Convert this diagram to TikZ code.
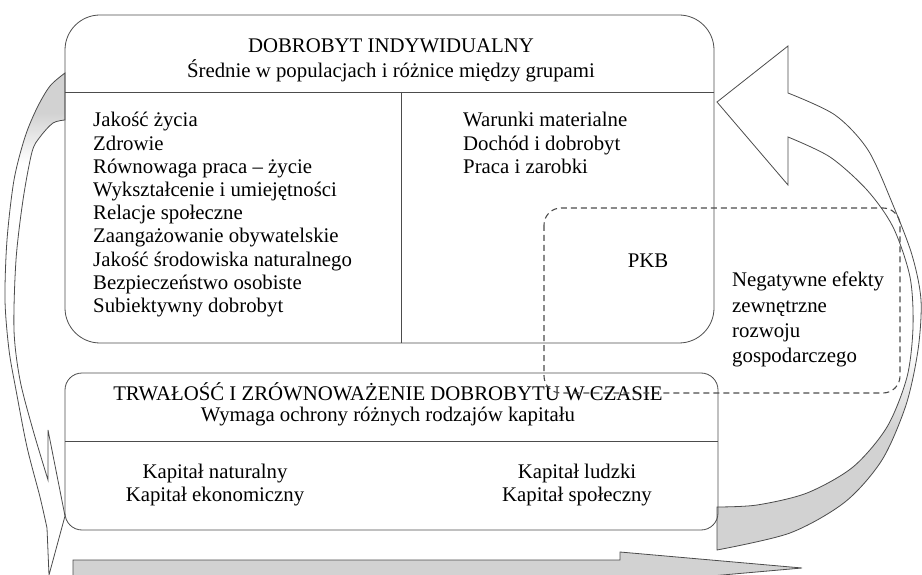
\documentclass[tikz,border=0pt]{standalone}
\usepackage{fontspec}
\setmainfont{Liberation Serif}
\pgfdeclareverticalshading{fadeleft}{100bp}{color(0bp)=(white); color(66bp)=(white); color(71bp)=(gray!35); color(100bp)=(gray!35)}
\pgfdeclareverticalshading{faderight}{100bp}{color(0bp)=(gray!35); color(37bp)=(gray!35); color(45bp)=(white); color(100bp)=(white)}
\begin{document}
\begin{tikzpicture}[x=1pt,y=-1pt,
  line/.style={draw=black!70, line width=0.8pt},
  txt/.style={font=\fontsize{20.8}{24}\selectfont, inner sep=0pt}]
  \useasboundingbox (0,0) rectangle (922,575);
  \clip (0,0) rectangle (922,575);

  % time arrow
  \filldraw[line, fill=gray!35] (73,560) -- (620,560) -- (620,552) -- (802,568)
    -- (620,584) -- (620,576) -- (73,576) -- cycle;

  % left feedback arrow
  \shadedraw[line, shading=fadeleft]
    plot[smooth] coordinates {(65,73) (50,86) (37,108) (25,137) (14,180) (7,240) (5,300)
      (9,350) (16,390) (27,447) (40,497) (47,528)}
    -- (49,575) -- (65,516) -- (48,430) -- (48,480)
    -- plot[smooth] coordinates {(48,480) (33,430) (20,380) (14,330) (16,260) (23,200)
      (32,152) (40,137) (53,123) (65,120)}
    -- cycle;

  % right feedback arrow
  \shadedraw[line, shading=faderight]
    (717,102) -- (788,46) -- (788,93)
    -- plot[smooth] coordinates {(788,93) (835,115) (868,150) (893,205) (912,255) (921,300)
      (918,350) (906,405) (882,460) (845,502) (790,533) (717,550)}
    -- (717,507)
    -- plot[smooth] coordinates {(717,507) (757,505) (807,493) (853,467) (887,427) (907,377)
      (913,327) (910,277) (893,227) (867,190) (830,157) (788,137)}
    -- (788,185) -- cycle;

  % individual well-being
  \draw[line, rounded corners=35] (65,15) rectangle (714,343);
  \draw[line] (65,92) -- (714,92);
  \draw[line] (401,92) -- (401,343);
  \node[txt, anchor=base] (indivtitle) at (391,53) {DOBROBYT INDYWIDUALNY};
  \node[txt, anchor=base] (indivsub) at (391,78) {Średnie w populacjach i różnice między grupami};
  \foreach \t [count=\i from 0] in {Jakość życia, Zdrowie, Równowaga praca – życie,
      Wykształcenie i umiejętności, Relacje społeczne, Zaangażowanie obywatelskie,
      Jakość środowiska naturalnego, Bezpieczeństwo osobiste, Subiektywny dobrobyt}
    \node[txt, anchor=base west] (life\i) at (93,127+23.2*\i) {\t};
  \foreach \t [count=\i from 0] in {Warunki materialne, Dochód i dobrobyt, Praca i zarobki}
    \node[txt, anchor=base west] (mat\i) at (463,127+23.2*\i) {\t};

  % sustainability
  \draw[line, rounded corners=17] (65,373) rectangle (718,530);
  \draw[line] (65,441) -- (718,441);
  \node[txt, anchor=base] (sustitle) at (388,400) {TRWAŁOŚĆ I ZRÓWNOWAŻENIE DOBROBYTU W CZASIE};
  \node[txt, anchor=base] (sussub) at (388,421) {Wymaga ochrony różnych rodzajów kapitału};
  \node[txt, anchor=base] (capnat) at (215,478) {Kapitał naturalny};
  \node[txt, anchor=base] (capeco) at (215,501) {Kapitał ekonomiczny};
  \node[txt, anchor=base] (caphum) at (577,478) {Kapitał ludzki};
  \node[txt, anchor=base] (capsoc) at (577,501) {Kapitał społeczny};

  % GDP and externalities
  \draw[draw=black!70, line width=1.1pt, dash pattern=on 6pt off 4pt, rounded corners=17]
    (544,208) rectangle (900,393);
  \node[txt, anchor=base] (pkb) at (648,268) {PKB};
  \foreach \t [count=\i from 0] in {Negatywne efekty, zewnętrzne, rozwoju, gospodarczego}
    \node[txt, anchor=base west] (ext\i) at (732,287+25*\i) {\t};
\end{tikzpicture}
\end{document}
